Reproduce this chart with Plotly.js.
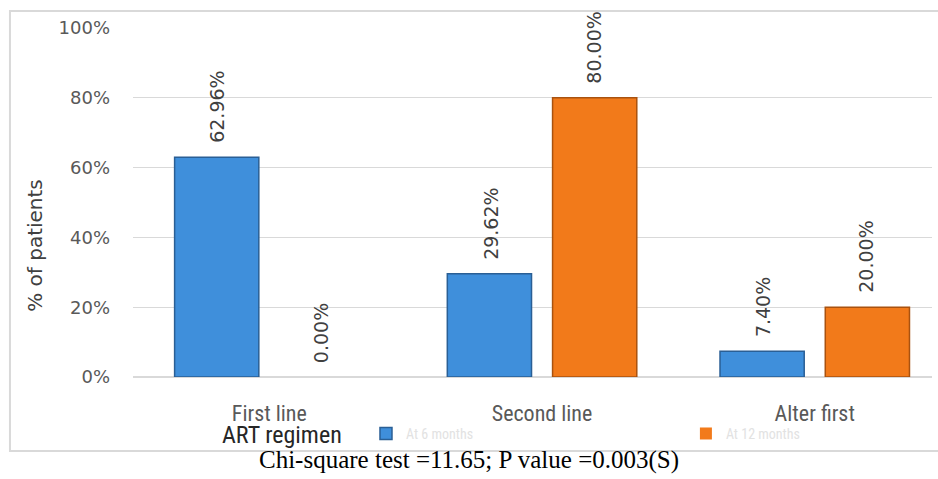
<!DOCTYPE html>
<html>
<head>
<meta charset="utf-8">
<script src="https://cdn.plot.ly/plotly-3.0.1.min.js"></script>
<style>
  html, body { margin: 0; padding: 0; background: #fff; }
  #chart { width: 938px; height: 479px; }
</style>
</head>
<body>
<div id="chart"></div>
<script>
const categories = ["First line", "Second line", "Alter first"];
const seriesNames = ["At 6 months", "At 12 months"];
const at6Months = [62.96, 29.62, 7.40];
const at12Months = [0.00, 80.00, 20.00];
const yTickValues = [0, 20, 40, 60, 80, 100];
const yTickLabels = ["0%", "20%", "40%", "60%", "80%", "100%"];
const yAxisTitle = "% of patients";
const xAxisTitle = "ART regimen";
const caption = "Chi-square test =11.65; P value =0.003(S)";

const narrow = "Liberation Sans Narrow, Roboto Condensed, Liberation Sans, sans-serif";
const labelFont = {family: "DejaVu Sans, sans-serif", size: 19, color: "#404040"};

function edgeWidths(vals) { return vals.map(v => v > 0 ? 1.5 : 0); }

const traces = [
  {
    type: "bar", name: seriesNames[0], x: categories, y: at6Months, legend: "legend",
    marker: {color: "#3f8fdb", line: {color: "#2a5f95", width: edgeWidths(at6Months)}},
    hoverinfo: "skip"
  },
  {
    type: "bar", name: seriesNames[1], x: categories, y: at12Months, legend: "legend2",
    marker: {color: "#f27a1a", line: {color: "#a9520f", width: edgeWidths(at12Months)}},
    hoverinfo: "skip"
  }
];

const annotations = [];
const offsets = [-0.19, 0.19];
[at6Months, at12Months].forEach((vals, s) => {
  vals.forEach((v, i) => {
    annotations.push({
      x: i + offsets[s], y: v, xref: "x", yref: "y",
      text: v.toFixed(2) + "%", showarrow: false, textangle: -90,
      xanchor: "center", yanchor: "bottom", yshift: 12,
      font: labelFont
    });
  });
});
annotations.push({
  xref: "paper", yref: "paper", x: -0.123, y: 0.378, text: yAxisTitle,
  showarrow: false, textangle: -90, xanchor: "center", yanchor: "middle",
  font: {family: "DejaVu Sans, sans-serif", size: 20, color: "#404040"}
});
annotations.push({
  xref: "paper", yref: "paper", x: 0.187, y: -0.166, text: xAxisTitle,
  showarrow: false, xanchor: "center", yanchor: "middle",
  font: {family: narrow, size: 24, color: "#262626"}
});
annotations.push({
  xref: "paper", yref: "paper", x: 0.42, y: -0.238, text: caption,
  showarrow: false, xanchor: "center", yanchor: "middle",
  font: {family: "Liberation Serif, Times New Roman, serif", size: 25, color: "#000"}
});

const legendCommon = {
  orientation: "h", yanchor: "middle", xanchor: "left", y: -0.163,
  font: {family: narrow, size: 14, color: "#e2e2e2"},
  bgcolor: "rgba(0,0,0,0)", borderwidth: 0
};

const layout = {
  width: 938, height: 479,
  margin: {l: 133, r: 6, t: 28, b: 102},
  paper_bgcolor: "#ffffff", plot_bgcolor: "#ffffff",
  barmode: "group", bargap: 0.228, bargroupgap: 0.2,
  showlegend: true,
  legend: Object.assign({}, legendCommon, {x: 0.2916}),
  legend2: Object.assign({}, legendCommon, {x: 0.692}),
  xaxis: {
    range: [-0.5, 2.43], showgrid: false, zeroline: false,
    showline: false, ticks: "", ticklabelstandoff: 21,
    tickfont: {family: narrow, size: 22, color: "#595959"},
    fixedrange: true
  },
  yaxis: {
    range: [0, 100], tickvals: yTickValues, ticktext: yTickLabels,
    showgrid: true, gridcolor: "#d9d9d9", gridwidth: 1,
    zeroline: true, zerolinecolor: "#d9d9d9", zerolinewidth: 2,
    showline: false, ticks: "", ticklabelstandoff: 22,
    tickfont: {family: "DejaVu Sans, sans-serif", size: 18, color: "#595959"},
    fixedrange: true
  },
  annotations: annotations,
  shapes: [{
    type: "rect", xref: "paper", yref: "paper",
    x0: -0.154, x1: 1.02, y0: -0.212, y1: 1.0487,
    line: {color: "#d9d9d9", width: 2}, fillcolor: "rgba(0,0,0,0)", layer: "below"
  }]
};

Plotly.newPlot("chart", traces, layout, {staticPlot: true, displayModeBar: false});
</script>
</body>
</html>
